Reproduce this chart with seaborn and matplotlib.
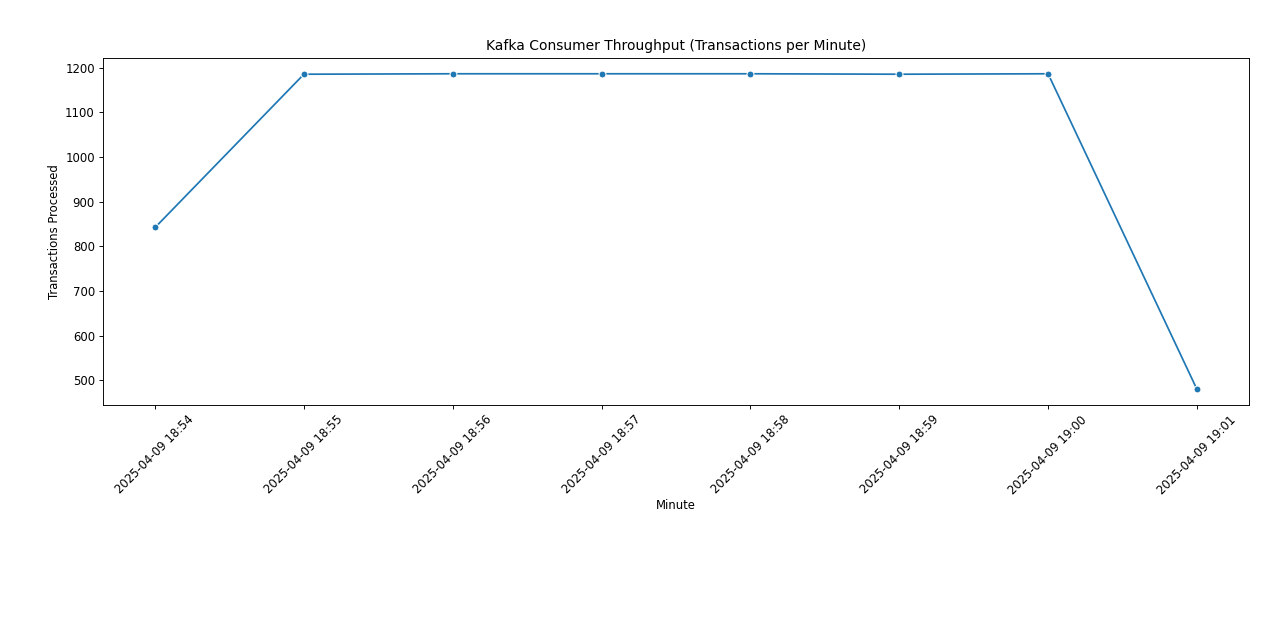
import pandas as pd
import matplotlib
matplotlib.use("Agg")
import matplotlib.pyplot as plt
import seaborn as sns

# minute buckets and counts
minutes = [
    "2025-04-09 18:54", "2025-04-09 18:55", "2025-04-09 18:56", "2025-04-09 18:57",
    "2025-04-09 18:58", "2025-04-09 18:59", "2025-04-09 19:00", "2025-04-09 19:01",
]
transactions = [842, 1185, 1186, 1186, 1186, 1185, 1186, 480]

df = pd.DataFrame({"minute": minutes, "count": transactions})

# original looks like a default figure shrunk to ~0.83
scale = 0.833
plt.rcParams.update({
    "font.size": 10 * scale,
    "axes.linewidth": 0.8 * scale,
    "axes.labelpad": 4 * scale,
    "xtick.major.size": 3.5 * scale,
    "ytick.major.size": 3.5 * scale,
    "xtick.major.width": 0.8 * scale,
    "ytick.major.width": 0.8 * scale,
    "xtick.major.pad": 3.5 * scale,
    "ytick.major.pad": 3.5 * scale,
})

fig, ax = plt.subplots(figsize=(12.8, 6.33), dpi=100)
sns.lineplot(data=df, x="minute", y="count", marker="o",
             markersize=6 * scale, linewidth=1.5 * scale, ax=ax)

ax.set_title("Kafka Consumer Throughput (Transactions per Minute)", fontsize=12 * scale)
ax.set_xlabel("Minute", labelpad=1.5)
ax.set_ylabel("Transactions Processed")
plt.xticks(rotation=45)

fig.subplots_adjust(left=103 / 1280, right=1249 / 1280, top=1 - 58 / 633, bottom=1 - 405 / 633)
fig.savefig("out.png", dpi=100)
